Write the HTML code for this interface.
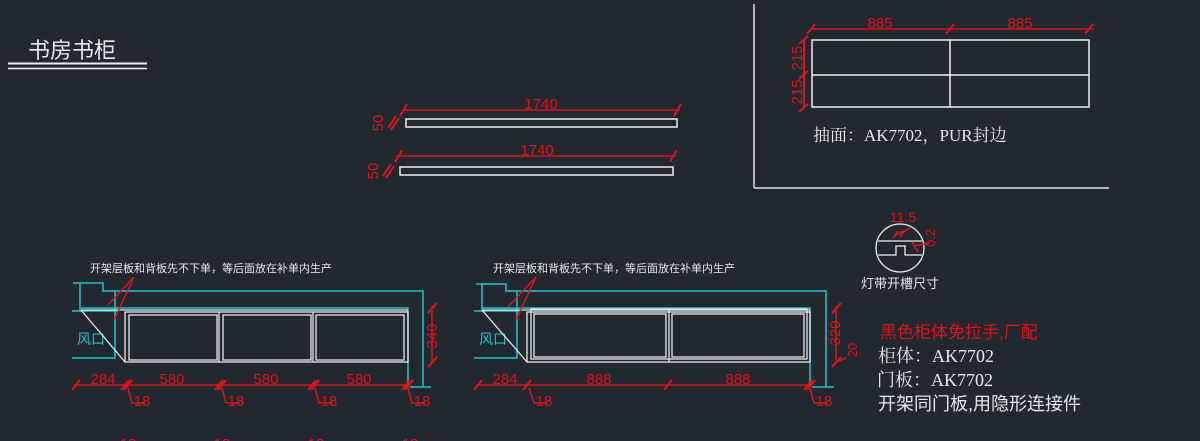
<!DOCTYPE html>
<html><head><meta charset="utf-8"><style>
html,body{margin:0;padding:0;background:#212830;}
svg{display:block}
text{font-family:"Liberation Sans","Noto Sans CJK SC",sans-serif;}
text.sf{font-family:"Liberation Serif","Noto Serif CJK SC",serif;}
.r{fill:#e0141c}
.w{fill:#e8e8e8}
</style></head><body>
<svg width="1200" height="441" viewBox="0 0 1200 441" xmlns="http://www.w3.org/2000/svg">
<rect width="1200" height="441" fill="#212830"/>
<text x="28" y="58" font-size="22" class="w">书房书柜</text>
<line x1="8" y1="63.5" x2="147" y2="63.5" stroke="#eee" stroke-width="2"/>
<line x1="8" y1="68.5" x2="147" y2="68.5" stroke="#eee" stroke-width="1.5"/>

<rect x="406" y="119" width="271" height="8" fill="none" stroke="#eee" stroke-width="1.5"/>
<line x1="402" y1="110" x2="680" y2="110" stroke="#e0141c" stroke-width="1.5"/>
<line x1="400" y1="116" x2="407" y2="104" stroke="#e0141c" stroke-width="2"/>
<line x1="674" y1="116" x2="681" y2="104" stroke="#e0141c" stroke-width="2"/>
<text x="541" y="109" font-size="15" class="r" text-anchor="middle">1740</text>
<rect x="400" y="167" width="273" height="8" fill="none" stroke="#eee" stroke-width="1.5"/>
<line x1="396" y1="156" x2="676" y2="156" stroke="#e0141c" stroke-width="1.5"/>
<line x1="395" y1="162" x2="402" y2="150" stroke="#e0141c" stroke-width="2"/>
<line x1="670" y1="162" x2="677" y2="150" stroke="#e0141c" stroke-width="2"/>
<text x="537" y="155" font-size="15" class="r" text-anchor="middle">1740</text>
<g stroke="#e0141c" stroke-width="2">
<line x1="388" y1="128" x2="396" y2="116"/><line x1="391" y1="130" x2="399" y2="118"/>
<line x1="383" y1="176" x2="391" y2="164"/><line x1="386" y1="178" x2="394" y2="166"/>
</g>
<text transform="translate(383,123) rotate(-90)" font-size="15" class="r" text-anchor="middle">50</text>
<text transform="translate(378,171) rotate(-90)" font-size="15" class="r" text-anchor="middle">50</text>

<line x1="754" y1="4" x2="754" y2="188" stroke="#ddd" stroke-width="1.5"/>
<line x1="754" y1="188" x2="1109" y2="188" stroke="#ddd" stroke-width="1.5"/>
<rect x="812" y="40" width="277" height="67" fill="none" stroke="#eee" stroke-width="1.5"/>
<line x1="812" y1="75" x2="1089" y2="75" stroke="#eee" stroke-width="1.5"/>
<line x1="950" y1="40" x2="950" y2="107" stroke="#eee" stroke-width="1.5"/>
<line x1="810" y1="29" x2="1094" y2="29" stroke="#e0141c" stroke-width="1.5"/>
<g stroke="#e0141c" stroke-width="2">
<line x1="807" y1="34" x2="815" y2="24"/><line x1="946" y1="34" x2="954" y2="24"/><line x1="1085" y1="34" x2="1093" y2="24"/>
<line x1="804" y1="40" x2="804" y2="108"/>
<line x1="799" y1="44" x2="808" y2="36"/><line x1="799" y1="79" x2="808" y2="71"/><line x1="799" y1="112" x2="808" y2="104"/>
</g>
<text x="880" y="28" font-size="15" class="r" text-anchor="middle">885</text>
<text x="1020" y="28" font-size="15" class="r" text-anchor="middle">885</text>
<text transform="translate(802,58) rotate(-90)" font-size="15" class="r" text-anchor="middle">215</text>
<text transform="translate(802,92) rotate(-90)" font-size="15" class="r" text-anchor="middle">215</text>
<text x="813" y="141" font-size="17" class="w sf">抽面：AK7702，PUR封边</text>

<circle cx="900" cy="248" r="24" fill="none" stroke="#eee" stroke-width="1.3"/>
<path d="M878 241 H922 M878 255 H896 V246 H905 V255 H922" fill="none" stroke="#eee" stroke-width="1.3"/>
<g stroke="#e0141c" stroke-width="1.6"><line x1="894" y1="236" x2="910" y2="228"/><line x1="893" y1="238" x2="898" y2="231"/><line x1="900" y1="237" x2="905" y2="230"/>
<line x1="912" y1="242" x2="918" y2="252"/><line x1="914" y1="246" x2="930" y2="243"/></g>
<text x="903" y="222" font-size="14" class="r" text-anchor="middle">11.5</text>
<text transform="translate(935,238) rotate(-90)" font-size="13" class="r" text-anchor="middle">0.2</text>
<text x="900" y="288" font-size="13" class="w" text-anchor="middle">灯带开槽尺寸</text>

<!-- LEFT CABINET -->
<text x="90" y="272" font-size="11" class="w">开架层板和背板先不下单，等后面放在补单内生产</text>
<g fill="none" stroke="#1fc6cc" stroke-width="1.5">
<path d="M73 283 H103 V291 H423 V387"/>
<path d="M80 283 V311"/>
<path d="M72 311 H118"/>
<path d="M115 291 V358 H72"/>
<path d="M81 308 H408 V385"/>
<path d="M410 387 H431"/>
</g>
<text x="77" y="344" font-size="14" fill="#1fc6cc">风口</text>
<g fill="none" stroke="#e8e8e8" stroke-width="1.3">
<path d="M81 310 H408"/>
<rect x="125" y="312" width="283" height="50"/>
<line x1="81" y1="310" x2="125" y2="362"/>
<rect x="129" y="315" width="88" height="45"/>
<rect x="223" y="315" width="88" height="45"/>
<rect x="316" y="315" width="88" height="45"/>
<line x1="219" y1="312" x2="219" y2="362"/><line x1="313" y1="312" x2="313" y2="362"/>
</g>
<g stroke="#e0141c" stroke-width="1.5" fill="none">
<line x1="108" y1="305" x2="134" y2="277"/><line x1="114" y1="320" x2="134" y2="277"/>
<line x1="74" y1="385" x2="410" y2="385"/>
<line x1="432" y1="306" x2="432" y2="364"/>
<path d="M128 388 L132 403 H146"/><path d="M222 388 L226 403 H240"/><path d="M315 388 L319 403 H333"/><path d="M408 388 L412 403 H426"/>
</g>
<g stroke="#e0141c" stroke-width="2.2">
<line x1="72" y1="390" x2="80" y2="380"/><line x1="121" y1="390" x2="129" y2="380"/><line x1="124" y1="390" x2="132" y2="380"/>
<line x1="215" y1="390" x2="223" y2="380"/><line x1="218" y1="390" x2="226" y2="380"/>
<line x1="308" y1="390" x2="316" y2="380"/><line x1="311" y1="390" x2="319" y2="380"/>
<line x1="402" y1="390" x2="410" y2="380"/><line x1="405" y1="390" x2="413" y2="380"/>
<line x1="428" y1="313" x2="437" y2="303"/><line x1="428" y1="367" x2="437" y2="357"/>
</g>
<g class="r" font-size="15" text-anchor="middle">
<text x="103" y="384">284</text><text x="172" y="384">580</text><text x="266" y="384">580</text><text x="359" y="384">580</text>
<text x="142" y="406">18</text><text x="236" y="406">18</text><text x="329" y="406">18</text><text x="422" y="406">18</text>
<text x="128" y="449">18</text><text x="222" y="449">18</text><text x="316" y="449">18</text><text x="410" y="449">18</text>
</g>
<text transform="translate(437,336) rotate(-90)" font-size="15" class="r" text-anchor="middle">340</text>

<!-- RIGHT CABINET -->
<text x="493" y="272" font-size="11" class="w">开架层板和背板先不下单，等后面放在补单内生产</text>
<g fill="none" stroke="#1fc6cc" stroke-width="1.5">
<path d="M476 284 H506 V291 H826 V387"/>
<path d="M482 284 V310"/>
<path d="M474 311 H520"/>
<path d="M517 291 V358 H474"/>
<path d="M482 308 H810 V385"/>
<path d="M812 387 H834"/>
</g>
<text x="479" y="344" font-size="14" fill="#1fc6cc">风口</text>
<g fill="none" stroke="#e8e8e8" stroke-width="1.3">
<path d="M482 310 H810"/>
<rect x="527" y="312" width="283" height="50"/>
<rect x="531" y="309" width="276" height="50"/>
<line x1="482" y1="310" x2="527" y2="362"/>
<rect x="534" y="314" width="132" height="43"/>
<rect x="672" y="314" width="132" height="43"/>
<line x1="669" y1="310" x2="669" y2="362"/>
</g>
<g stroke="#e0141c" stroke-width="1.5" fill="none">
<line x1="508" y1="307" x2="536" y2="277"/><line x1="516" y1="320" x2="536" y2="277"/>
<line x1="476" y1="385" x2="811" y2="385"/>
<line x1="836" y1="306" x2="836" y2="364"/>
<path d="M529 388 L534 403 H548"/><path d="M810 388 L814 403 H828"/>
<path d="M836 362 L846 358"/>
</g>
<g stroke="#e0141c" stroke-width="2.2">
<line x1="474" y1="390" x2="482" y2="380"/><line x1="523" y1="390" x2="531" y2="380"/>
<line x1="664" y1="390" x2="672" y2="380"/>
<line x1="804" y1="390" x2="812" y2="380"/><line x1="807" y1="390" x2="815" y2="380"/>
<line x1="832" y1="313" x2="841" y2="303"/><line x1="832" y1="367" x2="841" y2="357"/>
</g>
<g class="r" font-size="15" text-anchor="middle">
<text x="505" y="384">284</text><text x="599" y="384">888</text><text x="738" y="384">888</text>
<text x="544" y="406">18</text><text x="824" y="406">18</text>
</g>
<text transform="translate(840,333) rotate(-90)" font-size="15" class="r" text-anchor="middle">320</text>
<text transform="translate(857,350) rotate(-90)" font-size="13" class="r" text-anchor="middle">20</text>

<text x="880" y="338" font-size="17" class="r">黑色柜体免拉手,厂配</text>
<text x="878" y="362" font-size="18" class="w sf">柜体：AK7702</text>
<text x="877" y="386" font-size="18" class="w sf">门板：AK7702</text>
<text x="878" y="410" font-size="18" class="w">开架同门板,用隐形连接件</text>
</svg>
</body></html>
